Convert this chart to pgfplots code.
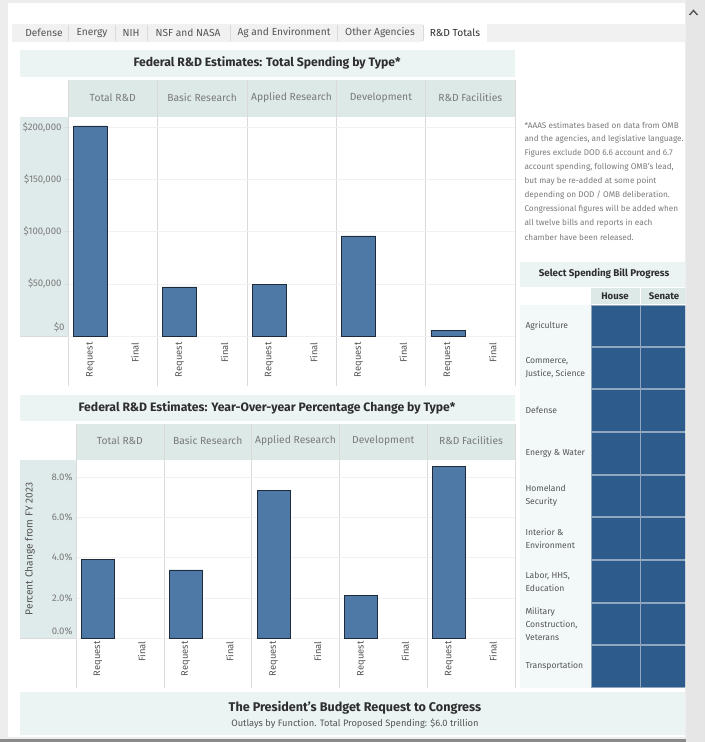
\documentclass[border=0pt]{standalone}
\usepackage{fontspec}
\setmainfont{Fira Sans}
\usepackage{pgfplots}
\pgfplotsset{compat=1.18}

\definecolor{pagegray}{HTML}{EDEDED}
\definecolor{scrollgray}{HTML}{E6E6E6}
\definecolor{shadowgray}{HTML}{8A8A8A}
\definecolor{titlebg}{HTML}{EBF3F3}
\definecolor{headbg}{HTML}{DCE9E7}
\definecolor{panelbg}{HTML}{DFEBEA}
\definecolor{barfill}{HTML}{4E79A7}
\definecolor{barline}{HTML}{1E2B3A}
\definecolor{cellblue}{HTML}{2D5B8C}
\definecolor{cellline}{HTML}{8FA6BE}
\definecolor{labelbg}{HTML}{F3F8F8}
\definecolor{divider}{HTML}{DADADA}
\definecolor{gridc}{HTML}{F1F1F1}
\definecolor{txtgray}{HTML}{7A7A7A}
\definecolor{txtmid}{HTML}{555555}
\definecolor{txtdark}{HTML}{2E2E2E}
\definecolor{tabbg}{HTML}{F1F1F1}

\tikzset{
  ttl/.style={font=\fontsize{12.2}{14}\selectfont\bfseries, text=txtdark},
  hdr/.style={font=\fontsize{10.3}{12}\selectfont, text=txtgray},
  tab/.style={font=\fontsize{10.2}{12}\selectfont, text=txtmid},
  note/.style={font=\fontsize{8.2}{10}\selectfont, text=txtgray, anchor=west},
  rowlab/.style={font=\fontsize{8.6}{13}\selectfont, text=txtmid, anchor=west, align=left},
}

\pgfplotsset{
  tableaubars/.style={
    scale only axis, anchor=south west,
    xmin=0, xmax=10, ymin=0,
    axis lines*=left,
    axis line style={draw=divider},
    xtick={0.5,1.5,2.5,3.5,4.5,5.5,6.5,7.5,8.5,9.5},
    xticklabels={Request,Final,Request,Final,Request,Final,Request,Final,Request,Final},
    xticklabel style={rotate=90, anchor=east, font=\fontsize{9.4}{11}\selectfont, text=txtmid},
    x tick style={draw=none},
    ymajorgrids, major grid style={draw=gridc},
    yticklabel style={font=\fontsize{9.6}{11}\selectfont, text=txtgray},
    scaled y ticks=false,
    /pgf/number format/assume math mode=true,
    tick align=outside,
  },
}

\begin{document}
\begin{tikzpicture}
% ---------- page frame, tabs, panels ----------
\begin{scope}[x=1pt,y=-1pt]
\useasboundingbox (0,0) rectangle (705,742);
\fill[pagegray] (0,0) rectangle (705,742);
\fill[white] (8,3) rectangle (685,737);
\fill[shadowgray] (0,738.5) rectangle (705,742);
% scrollbar
\fill[scrollgray] (686,0) rectangle (705,742);
\draw[line width=1.4pt, txtmid] (689.5,15) -- (693.5,10.5) -- (697.5,15);

% tab strip
\fill[tabbg] (12,24) rectangle (685,42);
\fill[white] (423,24) rectangle (487,42);
\foreach \sx in {68,115,147,230,337,423}
  \draw[divider] (\sx,25) -- (\sx,41);
\node[tab] at (44,33) {Defense};
\node[tab] at (92,33) {Energy};
\node[tab] at (131,33) {NIH};
\node[tab] at (188,33) {NSF and NASA};
\node[tab] at (284,33) {Ag and Environment};
\node[tab] at (380,33) {Other Agencies};
\node[tab, text=txtdark] at (455,33) {R\&D Totals};

% ===== chart 1 frame =====
\fill[titlebg] (20,50) rectangle (515,77);
\node[ttl] at (267,63) {Federal R\&D Estimates: Total Spending by Type*};
\fill[headbg] (68,80) rectangle (515,117);
\fill[panelbg] (20,117) rectangle (68,336);
\foreach \sx in {68,157.4,246.8,336.2,425.6,515}
  \draw[divider] (\sx,80) -- (\sx,386);
\draw[divider] (20,336) -- (515,336);
\node[hdr] at (112.7,98) {Total R\&D};
\node[hdr] at (202.1,98) {Basic Research};
\node[hdr] at (291.5,98) {Applied Research};
\node[hdr] at (380.9,98) {Development};
\node[hdr] at (470.3,98) {R\&D Facilities};

% ===== chart 2 frame =====
\fill[titlebg] (20,395) rectangle (515,421);
\node[ttl] at (267,408) {Federal R\&D Estimates: Year-Over-year Percentage Change by Type*};
\fill[headbg] (76,424) rectangle (515,460);
\fill[panelbg] (20,460) rectangle (76,638);
\foreach \sx in {76,163.8,251.6,339.4,427.2,515}
  \draw[divider] (\sx,424) -- (\sx,688);
\draw[divider] (20,638) -- (515,638);
\node[hdr] at (119.9,441) {Total R\&D};
\node[hdr] at (207.7,441) {Basic Research};
\node[hdr] at (295.5,441) {Applied Research};
\node[hdr] at (383.3,441) {Development};
\node[hdr] at (471.1,441) {R\&D Facilities};

% ===== bottom banner =====
\fill[titlebg] (20,692) rectangle (685,735);
\node[ttl, font=\fontsize{12.6}{14}\selectfont\bfseries] at (355,708) {The President's Budget Request to Congress};
\node[font=\fontsize{9.3}{11}\selectfont, text=txtmid] at (355,723.5) {Outlays by Function. Total Proposed Spending: \$6.0 trillion};

% ===== right-hand panel =====
\begin{scope}
\clip (516,100) rectangle (685,690);
\node[note] at (521,125) {*AAAS estimates based on data from OMB};
\node[note] at (521,139) {and the agencies, and legislative language.};
\node[note] at (521,153) {Figures exclude DOD 6.6 account and 6.7};
\node[note] at (521,167) {account spending, following OMB's lead,};
\node[note] at (521,181) {but may be re-added at some point};
\node[note] at (521,195) {depending on DOD / OMB deliberation.};
\node[note] at (521,209) {Congressional figures will be added when};
\node[note] at (521,223) {all twelve bills and reports in each};
\node[note] at (521,237) {chamber have been released.};

\fill[titlebg] (520,262) rectangle (690,287);
\node[font=\fontsize{9.8}{11}\selectfont\bfseries, text=txtdark] at (604,274) {Select Spending Bill Progress};
\fill[headbg] (591,288) rectangle (639.5,304);
\fill[headbg] (640.5,288) rectangle (690,304);
\node[font=\fontsize{9.6}{11}\selectfont\bfseries, text=txtdark] at (615,296.5) {House};
\node[font=\fontsize{9.6}{11}\selectfont\bfseries, text=txtdark] at (664,296.5) {Senate};

\fill[labelbg] (520,305) rectangle (591,688);
\fill[cellline] (591,305) rectangle (690,688);
\foreach \ra/\rb in {305/347,347/389,389/432,432/475,475/517,517/560,560/603,603/645,645/688}{
  \fill[cellblue] (591.5,\ra+0.6) rectangle (639.5,\rb-0.6);
  \fill[cellblue] (640.5,\ra+0.6) rectangle (690,\rb-0.6);
}
\node[rowlab] at (522,326) {Agriculture};
\node[rowlab] at (522,368) {Commerce,\\Justice, Science};
\node[rowlab] at (522,410.5) {Defense};
\node[rowlab] at (522,453.5) {Energy \& Water};
\node[rowlab] at (522,496) {Homeland\\Security};
\node[rowlab] at (522,538.5) {Interior \&\\Environment};
\node[rowlab] at (522,581.5) {Labor, HHS,\\Education};
\node[rowlab] at (522,624) {Military\\Construction,\\Veterans};
\node[rowlab] at (522,666.5) {Transportation};
\end{scope}
\end{scope}

% ---------- chart 1: total spending by type ----------
\begin{axis}[tableaubars,
  at={(68pt,-336pt)}, width=447pt, height=219pt,
  ymax=209560,
  ytick={50000,100000,150000,200000},
  yticklabel={\$\pgfmathprintnumber[fixed,1000 sep={,}]{\tick}},
  y tick style={draw=divider}, major tick length=3pt,
  extra y ticks={0},
  extra y tick style={yticklabel style={anchor=south east}, major tick length=0pt},
]
\addplot[ybar, bar width=34pt, fill=barfill, draw=barline, line width=0.9pt]
  coordinates {(0.5,201000) (2.5,46900) (4.5,49760) (6.5,95700) (8.5,5740)};
\end{axis}

% ---------- chart 2: year-over-year change ----------
\begin{axis}[tableaubars,
  at={(76pt,-638pt)}, width=439pt, height=178pt,
  ymax=8.845,
  ytick={2,4,6,8},
  yticklabel={\pgfmathprintnumber[fixed,fixed zerofill,precision=1]{\tick}\%},
  y tick style={draw=none}, major tick length=0pt,
  extra y ticks={0},
  extra y tick style={yticklabel style={anchor=south east}},
  ylabel={Percent Change from FY 2023},
  ylabel style={at={(axis description cs:-0.1048,0.5)}, anchor=center,
    font=\fontsize{10.2}{12}\selectfont, text=txtmid},
]
\addplot[ybar, bar width=33pt, fill=barfill, draw=barline, line width=0.9pt]
  coordinates {(0.5,3.88) (2.5,3.38) (4.5,7.35) (6.5,2.09) (8.5,8.50)};
\end{axis}
\end{tikzpicture}
\end{document}
